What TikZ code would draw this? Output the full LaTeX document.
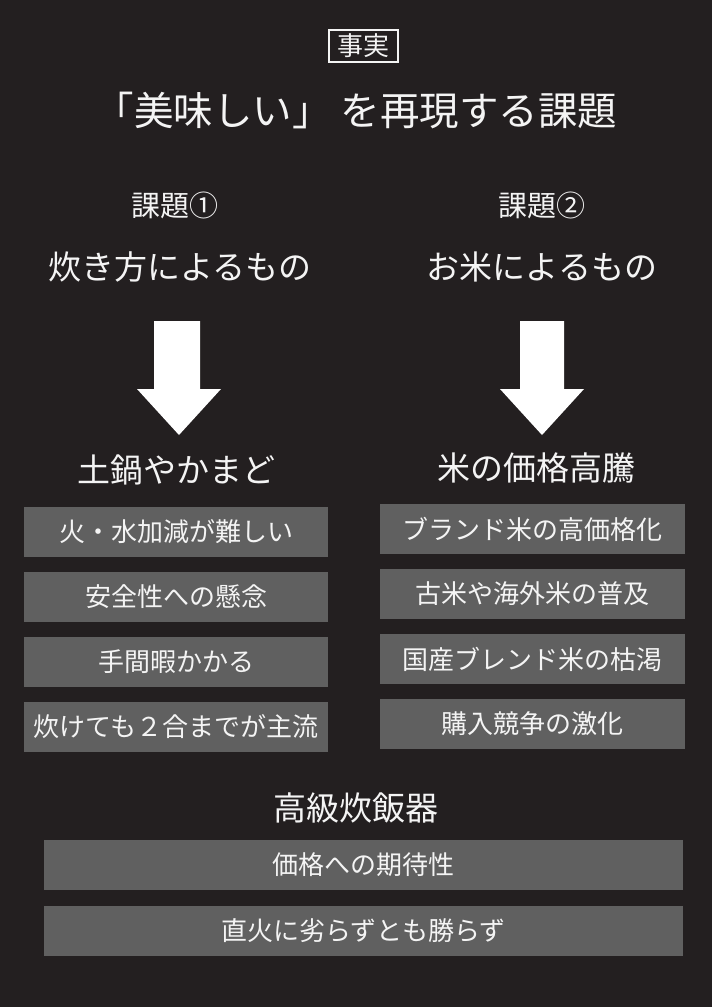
\documentclass[tikz,border=0pt]{standalone}
\usepackage{fontspec}
\setmainfont{Noto Sans CJK JP}
\definecolor{bg}{HTML}{231F20}
\definecolor{boxgray}{HTML}{606060}
\definecolor{txt}{HTML}{F4F4F4}
\newcommand{\fs}[1]{\fontsize{#1}{#1}\selectfont}
\tikzset{
  lbl/.style={text=txt, inner sep=0pt, anchor=center},
  item/.style={fill=boxgray, text=txt, inner sep=0pt, minimum height=50pt, font=\fs{26}},
  litem/.style={item, minimum width=304pt},
  ritem/.style={item, minimum width=305pt},
  bitem/.style={item, minimum width=639pt},
  blockarrow/.style={fill=white, draw=none}
}
\begin{document}
\begin{tikzpicture}[x=1pt,y=-1pt]
\useasboundingbox (0,0) rectangle (712,1007);
\fill[bg] (0,0) rectangle (712,1007);
% header
\node[lbl, draw=txt, line width=1.3pt, minimum width=69pt, minimum height=32pt, font=\fs{26}] (fact) at (363.5,46) {事実};
\node[lbl, font=\fs{39.5}] (title) at (356,110) {「美味しい」 を再現する課題};
% column headings
\node[lbl, font=\fs{29}] (k1) at (175,205) {課題①};
\node[lbl, font=\fs{29}] (k2) at (542,205) {課題②};
\node[lbl, font=\fs{33}] (c1) at (180,267) {炊き方によるもの};
\node[lbl, font=\fs{33}] (c2) at (542,267) {お米によるもの};
% block arrows
\fill[blockarrow] (154,321) -- (200,321) -- (200,389) -- (221,389) -- (179,435) -- (137,389) -- (154,389) -- cycle;
\fill[blockarrow] (520,321) -- (564,321) -- (564,389) -- (584,389) -- (542,435) -- (500,389) -- (520,389) -- cycle;
% sub headings
\node[lbl, font=\fs{33}] (h1) at (176,470) {土鍋やかまど};
\node[lbl, font=\fs{33}] (h2) at (536,468) {米の価格高騰};
% left items
\node[litem] (l1) at (176,532) {火・水加減が難しい};
\node[litem] (l2) at (176,597) {安全性への懸念};
\node[litem] (l3) at (176,662) {手間暇かかる};
\node[litem] (l4) at (176,727) {炊けても２合までが主流};
% right items
\node[ritem] (r1) at (532.5,529) {ブランド米の高価格化};
\node[ritem] (r2) at (532.5,594) {古米や海外米の普及};
\node[ritem] (r3) at (532.5,659) {国産ブレンド米の枯渇};
\node[ritem] (r4) at (532.5,724) {購入競争の激化};
% bottom
\node[lbl, font=\fs{33}] (h3) at (356,808) {高級炊飯器};
\node[bitem] (b1) at (363.5,865) {価格への期待性};
\node[bitem] (b2) at (363.5,931) {直火に劣らずとも勝らず};
\end{tikzpicture}
\end{document}
